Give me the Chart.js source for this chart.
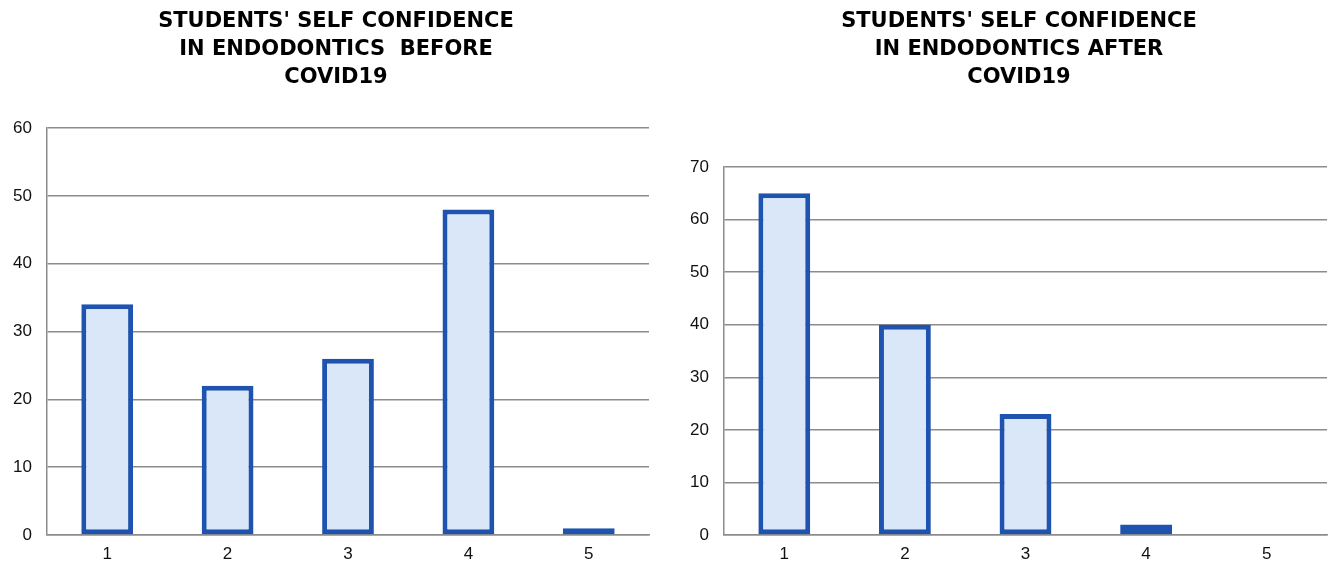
<!DOCTYPE html>
<html>
<head>
<meta charset="utf-8">
<script src="https://cdn.jsdelivr.net/npm/chart.js@4.4.1/dist/chart.umd.min.js"></script>
<style>
  html, body { margin: 0; padding: 0; background: #ffffff; }
  body { width: 1329px; height: 566px; position: relative; overflow: hidden; }
  .box { position: absolute; top: 0; height: 566px; }
  #b1 { left: 0; width: 665px; }
  #b2 { left: 665px; width: 664px; }
</style>
</head>
<body>
<div class="box" id="b1"><canvas id="c1"></canvas></div>
<div class="box" id="b2"><canvas id="c2"></canvas></div>
<script>
const categories = ['1', '2', '3', '4', '5'];
const beforeValues = [34, 22, 26, 48, 1];
const afterValues = [65, 40, 23, 2, 0];
const beforeTitle = ["STUDENTS' SELF CONFIDENCE", 'IN ENDODONTICS  BEFORE', 'COVID19'];
const afterTitle = ["STUDENTS' SELF CONFIDENCE", 'IN ENDODONTICS AFTER', 'COVID19'];
const beforeMax = 60;
const afterMax = 70;
const tickStep = 10;

const FONT = "'Liberation Sans', Arial, sans-serif";
const TITLE_FONT = "'DejaVu Sans', 'Liberation Sans', Arial, sans-serif";
const BORDER = 'rgb(30, 84, 176)';
const FILL = 'rgb(218, 231, 249)';
const GRID = '#8c8c8c';

// shifts the title block horizontally so it centres where the original does
const titleShift = {
  id: 'titleShift',
  afterLayout(chart, args, opts) {
    const tb = chart.titleBlock;
    if (tb && opts.dx) { tb.left += opts.dx; tb.right += opts.dx; }
  }
};

function makeChart(id, values, title, yMax, opts) {
  return new Chart(document.getElementById(id), {
    type: 'bar',
    plugins: [titleShift],
    data: {
      labels: categories,
      datasets: [{
        data: values,
        backgroundColor: FILL,
        borderColor: BORDER,
        borderWidth: 5,
        borderSkipped: false,
        barPercentage: 0.43,
        categoryPercentage: 1.0
      }]
    },
    options: {
      responsive: true,
      maintainAspectRatio: false,
      animation: false,
      layout: { padding: { left: 0, right: opts.padR, top: 0, bottom: 0 } },
      plugins: {
        legend: { display: false },
        tooltip: { enabled: false },
        titleShift: { dx: opts.dx },
        title: {
          display: true,
          text: title,
          color: '#000',
          font: { family: TITLE_FONT, size: 21, weight: 'bold', lineHeight: '28px' },
          padding: { top: 8, bottom: opts.titleBottom }
        }
      },
      scales: {
        x: {
          grid: { display: false, drawTicks: false },
          border: { display: true, color: GRID, width: 1.5 },
          ticks: { color: '#111', font: { family: FONT, size: 17 }, padding: 9 },
          afterFit: (s) => { s.height = 31; }
        },
        y: {
          min: 0,
          max: yMax,
          grid: { color: GRID, lineWidth: 1.5, drawTicks: false },
          border: { display: true, color: GRID, width: 1.5 },
          ticks: { stepSize: tickStep, color: '#111', font: { family: FONT, size: 17 }, padding: 15 },
          afterFit: (s) => { s.width = opts.yW; }
        }
      }
    }
  });
}

makeChart('c1', beforeValues, beforeTitle, beforeMax, { padR: 16, yW: 47, titleBottom: 36, dx: 11.5 });
makeChart('c2', afterValues, afterTitle, afterMax, { padR: 2, yW: 59, titleBottom: 75, dx: 23 });
</script>
</body>
</html>
